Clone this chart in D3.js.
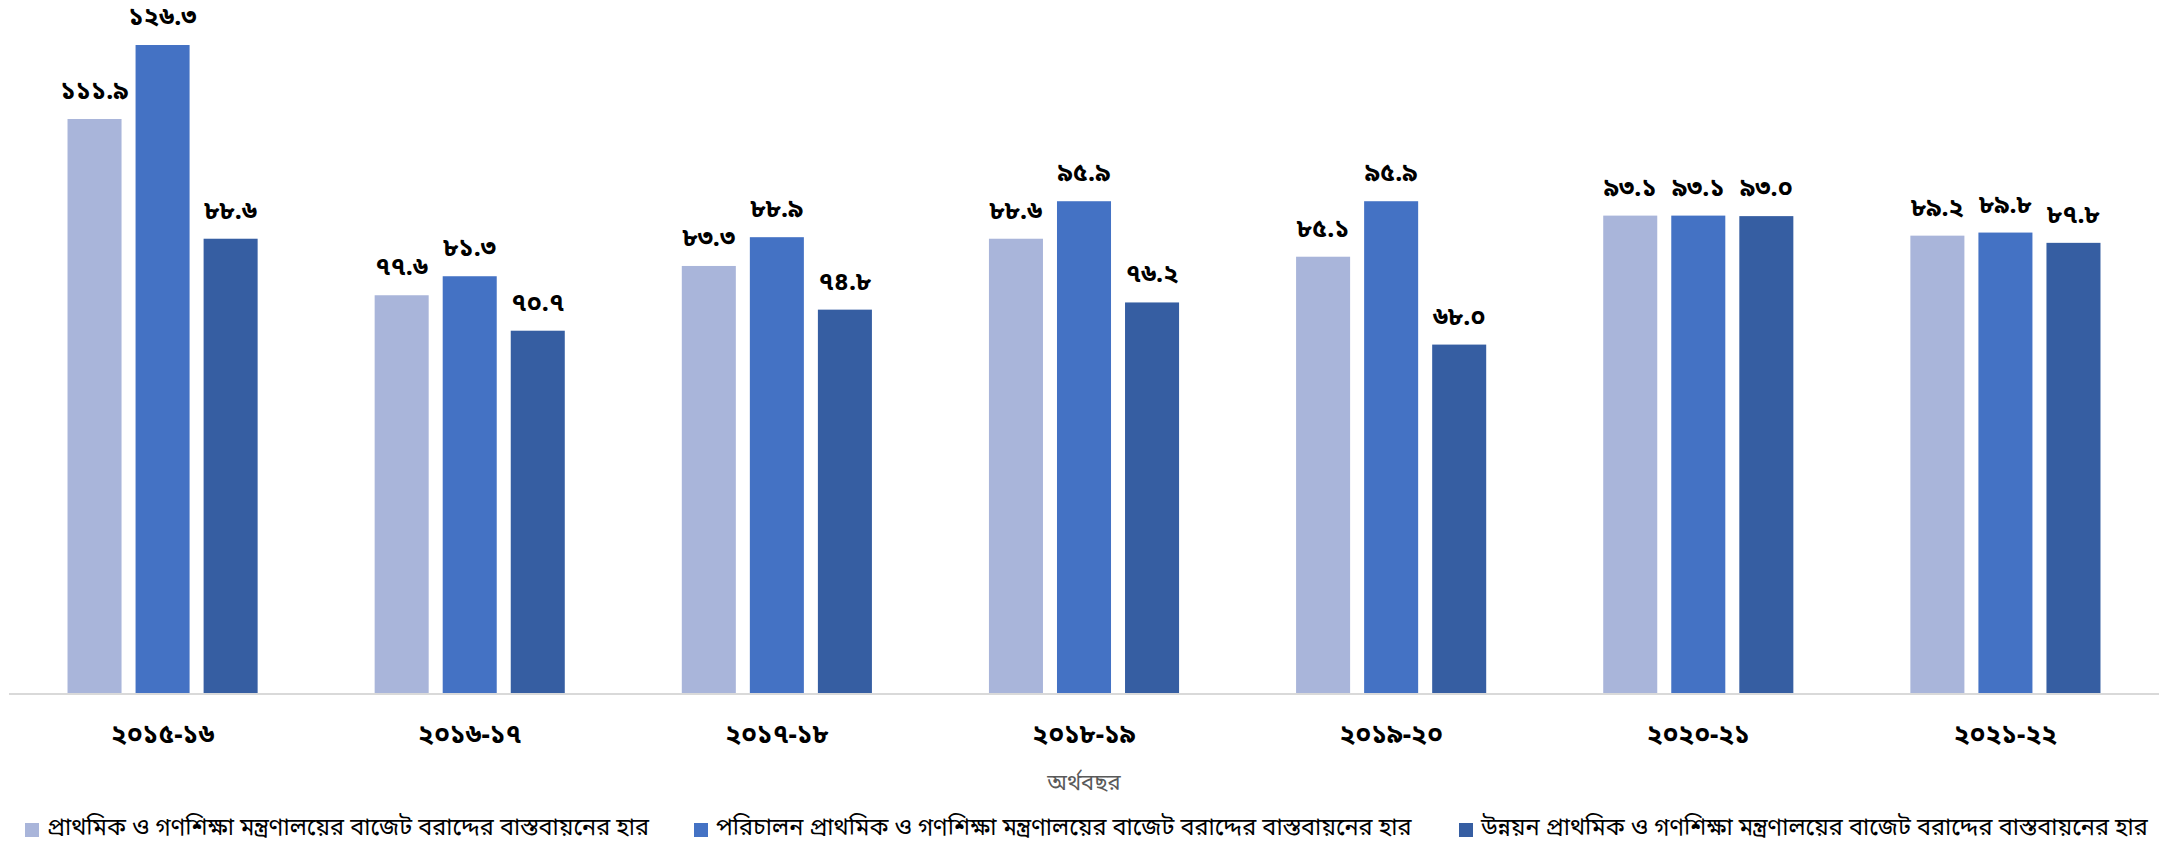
<!DOCTYPE html>
<html>
<head>
<meta charset="utf-8">
<script src="https://cdn.jsdelivr.net/npm/d3@7/dist/d3.min.js"></script>
<style>
  html, body { margin: 0; padding: 0; background: #ffffff; }
  svg { display: block; }
  text { font-family: "Noto Sans Bengali", "Noto Serif Bengali", "Vrinda", "Lohit Bengali", "Noto Sans", "DejaVu Sans", sans-serif; }
</style>
</head>
<body>
<svg id="chart" width="2164" height="847"></svg>
<script>
// ---- data ----
const categories = ["২০১৫-১৬", "২০১৬-১৭", "২০১৭-১৮", "২০১৮-১৯", "২০১৯-২০", "২০২০-২১", "২০২১-২২"];
const seriesNames = [
  "প্রাথমিক ও গণশিক্ষা মন্ত্রণালয়ের বাজেট বরাদ্দের বাস্তবায়নের হার",
  "পরিচালন প্রাথমিক ও গণশিক্ষা মন্ত্রণালয়ের বাজেট বরাদ্দের বাস্তবায়নের হার",
  "উন্নয়ন প্রাথমিক ও গণশিক্ষা মন্ত্রণালয়ের বাজেট বরাদ্দের বাস্তবায়নের হার"
];
const totalRate     = [111.9, 77.6, 83.3, 88.6, 85.1, 93.1, 89.2];
const operatingRate = [126.3, 81.3, 88.9, 95.9, 95.9, 93.1, 89.8];
const developRate   = [88.6, 70.7, 74.8, 76.2, 68.0, 93.0, 87.8];
const axisTitle = "অর্থবছর";
const colors = ["#A9B5DA", "#4472C4", "#365EA2"];

// ---- layout ----
const W = 2164, H = 847;
const plotLeft = 9, plotRight = 2159, baseY = 694, topY = 26;
const series = [totalRate, operatingRate, developRate];

const bn = s => String(s).replace(/[0-9]/g, d => "০১২৩৪৫৬৭৮৯"[+d]);

const svg = d3.select("#chart");

const x0 = d3.scaleBand().domain(categories).range([plotLeft, plotRight])
  .paddingInner(0.381).paddingOuter(0.1905);
const x1 = d3.scaleBand().domain(d3.range(series.length)).range([0, x0.bandwidth()])
  .paddingInner(0.206).paddingOuter(0);
const y = d3.scaleLinear().domain([0, 130]).range([baseY, topY]);

const rows = categories.map((c, i) => ({ cat: c, vals: series.map(s => s[i]) }));

const g = svg.append("g");
const groups = g.selectAll("g.grp").data(rows).join("g")
  .attr("class", "grp")
  .attr("transform", d => `translate(${x0(d.cat)},0)`);

groups.selectAll("rect").data(d => d.vals.map((v, k) => ({ v, k }))).join("rect")
  .attr("x", d => x1(d.k))
  .attr("width", x1.bandwidth())
  .attr("y", d => y(d.v))
  .attr("height", d => y(0) - y(d.v))
  .attr("fill", d => colors[d.k]);

groups.selectAll("text.lbl").data(d => d.vals.map((v, k) => ({ v, k }))).join("text")
  .attr("class", "lbl")
  .attr("x", d => x1(d.k) + x1.bandwidth() / 2)
  .attr("y", d => y(d.v) - 20)
  .attr("text-anchor", "middle")
  .attr("font-size", 25)
  .attr("font-weight", "bold")
  .attr("fill", "#000")
  .text(d => bn(d.v.toFixed(1)));

// x axis
const xAxis = d3.axisBottom(x0).tickSize(0).tickPadding(0);
const ax = svg.append("g").attr("transform", `translate(0,${baseY})`).call(xAxis);
ax.select(".domain").attr("stroke", "#D9D9D9").attr("stroke-width", 2)
  .attr("d", `M${plotLeft},0H${plotRight}`);
ax.selectAll(".tick text")
  .attr("y", 49)
  .attr("dy", 0)
  .attr("font-size", 26)
  .attr("font-weight", "bold")
  .attr("fill", "#000")
  .style("font-family", null);

// axis title
svg.append("text")
  .attr("x", (plotLeft + plotRight) / 2)
  .attr("y", 790)
  .attr("text-anchor", "middle")
  .attr("font-size", 22)
  .attr("fill", "#595959")
  .text(axisTitle);

// legend
const legendX = [25, 694, 1459];
const lg = svg.append("g").selectAll("g").data(seriesNames).join("g")
  .attr("transform", (d, i) => `translate(${legendX[i]},827)`);
lg.append("rect").attr("x", 0).attr("y", -4).attr("width", 14).attr("height", 14)
  .attr("fill", (d, i) => colors[i]);
lg.append("text").attr("x", 22).attr("y", 0).attr("dy", "0.35em")
  .attr("font-size", 23.5).attr("fill", "#000")
  .text(d => d);
</script>
</body>
</html>
